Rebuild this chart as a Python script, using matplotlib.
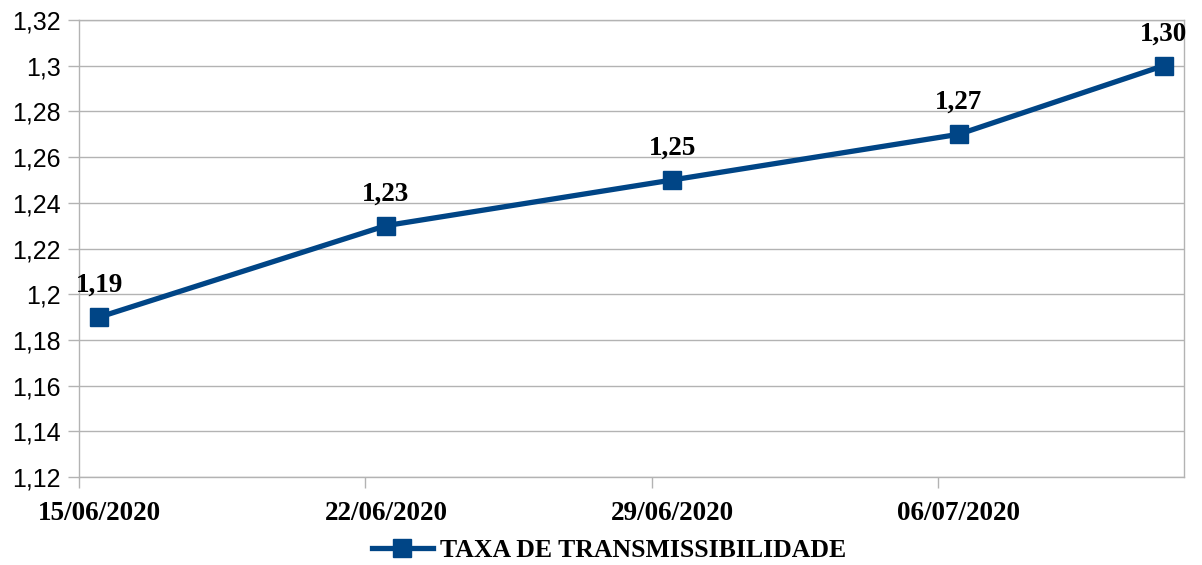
import matplotlib
matplotlib.use("Agg")
import matplotlib.pyplot as plt
import matplotlib.dates as mdates
from matplotlib.ticker import FixedLocator, FuncFormatter
import datetime as dt

# Data
dates = ["2020-06-15", "2020-06-22", "2020-06-29", "2020-07-06", "2020-07-11"]
values = [1.19, 1.23, 1.25, 1.27, 1.30]
value_labels = ["1,19", "1,23", "1,25", "1,27", "1,30"]
tick_dates = ["2020-06-15", "2020-06-22", "2020-06-29", "2020-07-06"]
tick_labels = ["15/06/2020", "22/06/2020", "29/06/2020", "06/07/2020"]
y_ticks = [1.12, 1.14, 1.16, 1.18, 1.20, 1.22, 1.24, 1.26, 1.28, 1.30, 1.32]
series_name = "TAXA DE TRANSMISSIBILIDADE"

color = "#004586"
grid_c = "#b3b3b3"
serif = ["Liberation Serif", "DejaVu Serif"]
sans = ["Liberation Sans", "DejaVu Sans"]

x = [mdates.date2num(dt.date.fromisoformat(d)) for d in dates]
xt = [mdates.date2num(dt.date.fromisoformat(d)) for d in tick_dates]

fig = plt.figure(figsize=(12.02, 5.65), dpi=100)
ax = fig.add_axes([79/1202, 1-477/565, (1184-79)/1202, (477-20)/565])

ax.plot(x, values, color=color, lw=3.8, marker="s", markersize=13,
        label=series_name, zorder=3, clip_on=False)

for xi, v, lab in zip(x, values, value_labels):
    ax.annotate(lab, (xi, v), xytext=(0, 23), textcoords="offset points",
                ha="center", va="center", fontsize=19.5, fontweight="bold",
                family=serif, color="black")

ax.set_xlim(x[0] - 0.5, x[-1] + 0.5)
ax.set_ylim(y_ticks[0], y_ticks[-1])

ax.yaxis.set_major_locator(FixedLocator(y_ticks))
ax.yaxis.set_major_formatter(FuncFormatter(lambda v, p: f"{round(v, 2):g}".replace(".", ",")))
ax.set_xticks(xt)
ax.set_xticklabels(tick_labels)
ax.set_xticks([t - 0.5 for t in xt], minor=True)

ax.tick_params(axis="x", which="major", length=0, pad=17)
ax.tick_params(axis="x", which="minor", length=8, color=grid_c, width=1)
ax.tick_params(axis="y", which="major", length=8, color=grid_c, width=1, pad=5,
               labelsize=18)
for t in ax.get_yticklabels():
    t.set_family(sans)
for t in ax.get_xticklabels():
    t.set_family(serif)
    t.set_fontweight("bold")
    t.set_fontsize(19.5)

ax.grid(axis="y", color=grid_c, lw=1)
ax.set_axisbelow(True)
for s in ax.spines.values():
    s.set_color(grid_c)
    s.set_linewidth(1)

leg = fig.legend(loc="lower center", bbox_to_anchor=(0.507, -0.035), frameon=False,
                 prop={"family": serif, "weight": "bold", "size": 18.5},
                 handlelength=2.35, handletextpad=0.3)

fig.savefig("out.png", dpi=100)
